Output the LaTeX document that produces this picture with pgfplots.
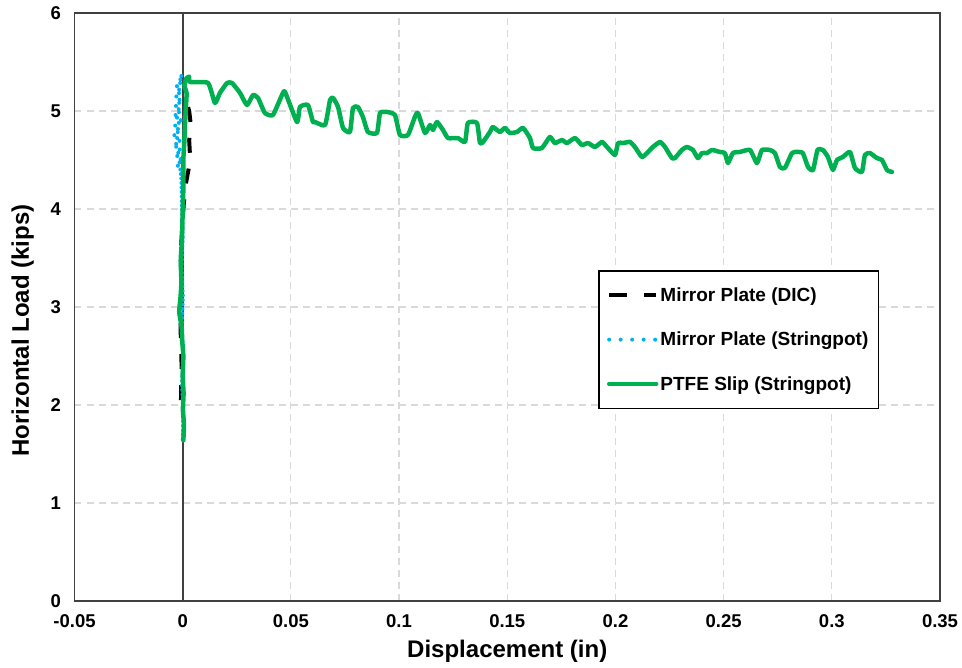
\documentclass[border=0pt]{standalone}
\usepackage{pgfplots}
\pgfplotsset{compat=1.18}
\usepackage{fontspec}
\setmainfont{Liberation Sans}
\definecolor{ptfegreen}{RGB}{0,176,80}
\definecolor{mpblue}{RGB}{0,176,240}
\definecolor{framegray}{RGB}{64,64,64}
\definecolor{gridgray}{RGB}{217,217,217}
\begin{document}
\begin{tikzpicture}
\begin{axis}[
  scale only axis, width=865.5pt, height=588pt,
  xmin=-0.05, xmax=0.35, ymin=0, ymax=6,
  xtick={-0.05,0,0.05,0.1,0.15,0.2,0.25,0.3,0.35},
  ytick={0,1,2,3,4,5,6},
  major tick length=0pt,
  grid=major,
  major grid style={gridgray, dash pattern=on 7pt off 5pt, line width=1.2pt},
  axis line style={framegray, line width=1.6pt},
  scaled x ticks=false,
  /pgf/number format/assume math mode=true,
  xticklabel style={/pgf/number format/fixed, /pgf/number format/precision=2, yshift=-10pt},
  yticklabel style={xshift=-10pt},
  tick label style={font=\bfseries\fontsize{18.5}{20}\selectfont},
  xlabel={Displacement (in)}, ylabel={Horizontal Load (kips)},
  label style={font=\bfseries\fontsize{24}{28}\selectfont},
  xlabel style={at={(axis description cs:0.5,-0.085)}, anchor=center},
  ylabel style={at={(axis description cs:-0.06,0.46)}, anchor=center},
  legend cell align=left,
  legend image code/.code={\draw[#1] (0pt,0pt) -- (47pt,0pt);},
  legend style={at={(axis description cs:0.605,0.563)}, anchor=north west,
    draw=black, line width=1.6pt, fill=white,
    font=\bfseries\fontsize{19}{21}\selectfont,
    inner xsep=8pt, inner ysep=15pt, row sep=25pt,
    nodes={inner sep=2pt}},
]
\addplot[framegray, line width=1.8pt, forget plot] coordinates {(0,0) (0,6)};
\addplot[black, line width=4pt, dash pattern=on 15pt off 16pt,
  legend image post style={dash pattern=on 18pt off 17pt}] coordinates {
(-0.0008,2.05) (-0.0005,2.4) (-0.0010,2.8) (-0.0006,3.2) (-0.0009,3.55) (0.0000,3.9) (0.0010,4.2) (0.0035,4.5) (0.0030,4.7) (0.0038,4.85) (0.0030,5.0) (0.0020,5.08)
};
\addlegendentry{Mirror Plate (DIC)}
\addplot[mpblue, line width=4pt, line cap=round, dash pattern=on 0pt off 4.5pt,
  legend image post style={dash pattern=on 0pt off 11.5pt}] coordinates {
(0.0000,1.65) (0.0003,1.9) (-0.0003,2.2) (0.0002,2.5) (-0.0004,2.8) (0.0001,3.1) (-0.0005,3.4) (0.0000,3.7) (-0.0003,4.0) (-0.0006,4.3)
(-0.0010,4.40) (-0.0025,4.45) (-0.0005,4.50) (-0.0030,4.55) (-0.0010,4.60) (-0.0038,4.65) (-0.0012,4.70) (-0.0040,4.75) (-0.0015,4.80) (-0.0035,4.85) (-0.0005,4.90) (-0.0038,4.95) (-0.0010,5.00) (-0.0032,5.05) (-0.0008,5.10) (-0.0030,5.15) (-0.0010,5.20) (-0.0028,5.25) (-0.0005,5.30) (-0.0015,5.34) (-0.0005,5.36)
};
\addlegendentry{Mirror Plate (Stringpot)}
\addplot[ptfegreen, line width=4.5pt, line join=round, line cap=round, smooth, tension=0.3] coordinates {
(0.0003,1.64) (0.0006,1.80) (0.0001,1.95) (0.0004,2.12) (0.0000,2.30) (0.0003,2.50) (-0.0002,2.65) (-0.0005,2.80) (-0.0016,2.95) (-0.0010,3.10) (-0.0006,3.25) (-0.0009,3.48) (-0.0003,3.70) (0.0000,3.99) (0.0003,4.20) (0.0003,4.50) (0.0008,4.70) (0.0010,4.84) (0.0014,5.00) (0.0018,5.18) (0.0008,5.26) (0.0016,5.33) (0.0030,5.35) (0.0034,5.296)
(0.0117,5.286) (0.0149,5.082) (0.0172,5.184) (0.0205,5.286) (0.0228,5.286) (0.0265,5.184) (0.0297,5.061) (0.0325,5.163) (0.0348,5.133) (0.0380,4.980) (0.0417,4.959) (0.0459,5.163) (0.0473,5.194) (0.0528,4.888) (0.0542,5.041) (0.0579,5.061) (0.0602,4.888) (0.0611,4.888)
(0.0658,4.857) (0.0681,5.112) (0.0695,5.133) (0.0718,5.041) (0.0741,4.827) (0.0773,4.786) (0.0787,5.031) (0.0810,5.041) (0.0833,4.939) (0.0856,4.786) (0.0898,4.776) (0.0912,4.980) (0.0944,4.990) (0.0981,4.959) (0.1004,4.755) (0.1041,4.755) (0.1073,4.939) (0.1087,4.980) (0.1120,4.776) (0.1143,4.857) (0.1157,4.806) (0.1175,4.888) (0.1203,4.806) (0.1226,4.724)
(0.1272,4.724) (0.1305,4.684) (0.1318,4.878) (0.1360,4.878) (0.1374,4.673) (0.1388,4.684) (0.1420,4.786) (0.1434,4.837) (0.1466,4.786) (0.1489,4.827) (0.1512,4.776) (0.1545,4.786) (0.1573,4.827) (0.1605,4.724) (0.1619,4.622) (0.1660,4.622) (0.1697,4.735) (0.1720,4.673) (0.1753,4.704) (0.1776,4.673) (0.1813,4.724) (0.1845,4.653)
(0.1873,4.673) (0.1905,4.633) (0.1938,4.684) (0.1961,4.633) (0.1998,4.551) (0.2012,4.673) (0.2035,4.673) (0.2067,4.684) (0.2090,4.633) (0.2122,4.531) (0.2146,4.571) (0.2173,4.633) (0.2206,4.684) (0.2229,4.633) (0.2261,4.520) (0.2275,4.520) (0.2307,4.602) (0.2330,4.633) (0.2358,4.602) (0.2381,4.520) (0.2400,4.571) (0.2423,4.571) (0.2446,4.602) (0.2483,4.582) (0.2506,4.571) (0.2520,4.469) (0.2543,4.571) (0.2575,4.582) (0.2622,4.602) (0.2654,4.469)
(0.2677,4.602) (0.2714,4.602) (0.2737,4.571) (0.2760,4.429) (0.2783,4.418) (0.2816,4.571) (0.2839,4.582) (0.2866,4.571) (0.2890,4.429) (0.2913,4.398) (0.2934,4.602) (0.2959,4.602) (0.2982,4.531) (0.3005,4.398) (0.3024,4.500) (0.3051,4.531) (0.3084,4.582) (0.3107,4.418) (0.3139,4.378) (0.3153,4.551) (0.3176,4.571) (0.3208,4.520) (0.3232,4.500) (0.3255,4.398) (0.3278,4.378)
};
\addlegendentry{PTFE Slip (Stringpot)}
\end{axis}
\path ([shift={(-74.5pt,-66pt)}]current axis.south west) rectangle ([shift={(22pt,13pt)}]current axis.north east);
\end{tikzpicture}
\end{document}
